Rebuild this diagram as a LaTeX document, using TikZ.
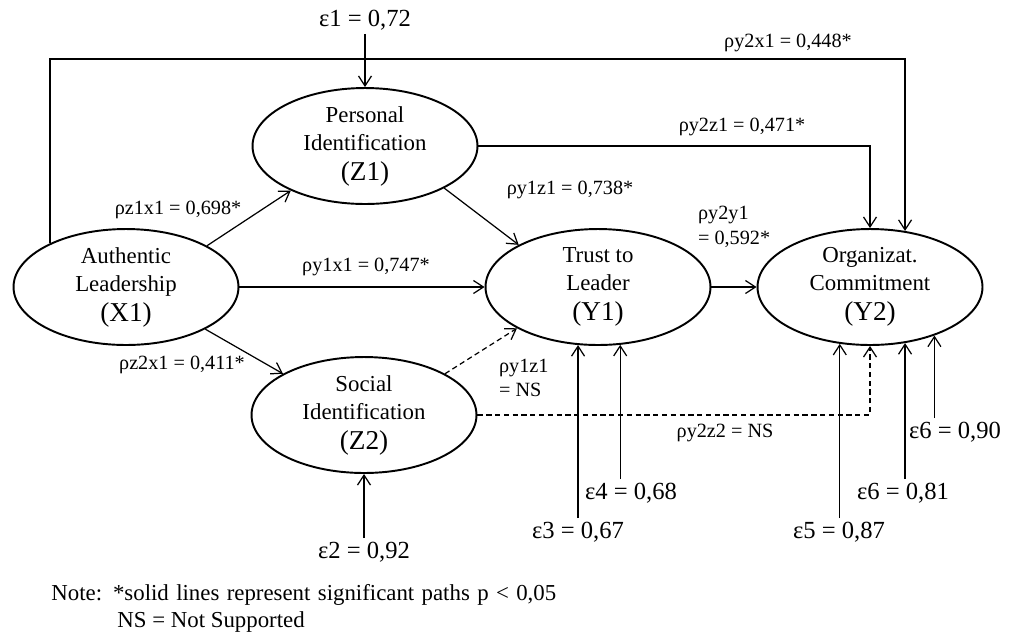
\documentclass[tikz,border=0pt]{standalone}
\usepackage{fontspec}
\setmainfont{Liberation Serif}
\usetikzlibrary{shapes,arrows.meta,positioning}

\begin{document}
\begin{tikzpicture}[
    x=0.02cm, y=-0.02cm,
    latent/.style={draw, ellipse, line width=1.1pt, minimum width=4.5cm, minimum height=2.32cm, inner sep=0pt, align=center, font=\fontsize{13}{16}\selectfont},
    arrow/.style={-{Straight Barb[length=2mm,width=2.6mm]}, line width=0.7pt},
    nsarrow/.style={arrow, dash pattern=on 3pt off 2pt},
    coef/.style={font=\fontsize{11.5}{14}\selectfont, inner sep=1pt},
    err/.style={font=\fontsize{14}{16}\selectfont, inner sep=2pt}
]
\useasboundingbox (0,0) rectangle (1013,637);

\node[latent] (auth) at (126,287) {Authentic\\Leadership\\[1pt]{\fontsize{15.5}{17}\selectfont (X1)}};
\node[latent] (pers) at (365,146) {Personal\\Identification\\[1pt]{\fontsize{15.5}{17}\selectfont (Z1)}};
\node[latent] (soc) at (364,415) {Social\\Identification\\[1pt]{\fontsize{15.5}{17}\selectfont (Z2)}};
\node[latent] (trust) at (598,287) {Trust to\\Leader\\[1pt]{\fontsize{15.5}{17}\selectfont (Y1)}};
\node[latent] (org) at (870,287) {Organizat.\\Commitment\\[1pt]{\fontsize{15.5}{17}\selectfont (Y2)}};

% error terms
\node[err] (e1) at (365,20) {ε1 = 0,72};
\node[err] (e2) at (364,552) {ε2 = 0,92};
\node[err] (e3) at (578,532) {ε3 = 0,67};
\node[err] (e4) at (631,493) {ε4 = 0,68};
\node[err] (e5) at (839,532) {ε5 = 0,87};
\node[err] (e6) at (903,493) {ε6 = 0,81};
\node[err] (e7) at (955,432) {ε6 = 0,90};

\coordinate (topline) at (0,59);

% paths
\draw[arrow] (auth.27) -- (pers.211);
\draw[arrow] (auth.east) -- (trust.west);
\draw[arrow] (auth.-28) -- (soc.153);
\draw[arrow] (pers.-28) -- (trust.152);
\draw[nsarrow] (soc.27) -- (trust.207);
\draw[arrow] (trust.east) -- (org.west);
\draw[arrow] (auth.150) -- (auth.150 |- topline) -| (org.58);
\draw[arrow] (pers.east) -| (org.north);
\draw[nsarrow] (soc.east) -| (org.south);

\draw[arrow] (e1) -- (pers);
\draw[arrow] (e2) -- (soc);
\draw[arrow] (e3.north -| trust.-109) -- (trust.-109);
\draw[arrow] (e4.north -| trust.-69) -- (trust.-69);
\draw[arrow] (e5.north -| org.-118) -- (org.-118);
\draw[arrow] (e6.north -| org.-58) -- (org.-58);
\draw[arrow] (e7.north -| org.-37) -- (org.-37);

% coefficients
\node[coef] (l1) at (788,43) {ρy2x1 = 0,448*};
\node[coef] (l2) at (742,127) {ρy2z1 = 0,471*};
\node[coef] (l3) at (570,190) {ρy1z1 = 0,738*};
\node[coef] (l4) at (178,210) {ρz1x1 = 0,698*};
\node[coef] (l5) at (366,267) {ρy1x1 = 0,747*};
\node[coef] (l6) at (182,365) {ρz2x1 = 0,411*};
\node[coef, anchor=west, align=left] (l7) at (497,378) {ρy1z1\\= NS};
\node[coef, anchor=west, align=left] (l8) at (696,227) {ρy2y1\\= 0,592*};
\node[coef] (l9) at (725,433) {ρy2z2 = NS};

% note
\node[anchor=west, inner sep=0pt, font=\fontsize{13}{15}\selectfont] (note) at (51,595) {\makebox[10.1cm][s]{Note: *solid lines represent significant paths p < 0,05}};
\node[anchor=west, inner sep=0pt, font=\fontsize{13}{15}\selectfont] (ns) at (117,622) {NS = Not Supported};
\end{tikzpicture}
\end{document}
